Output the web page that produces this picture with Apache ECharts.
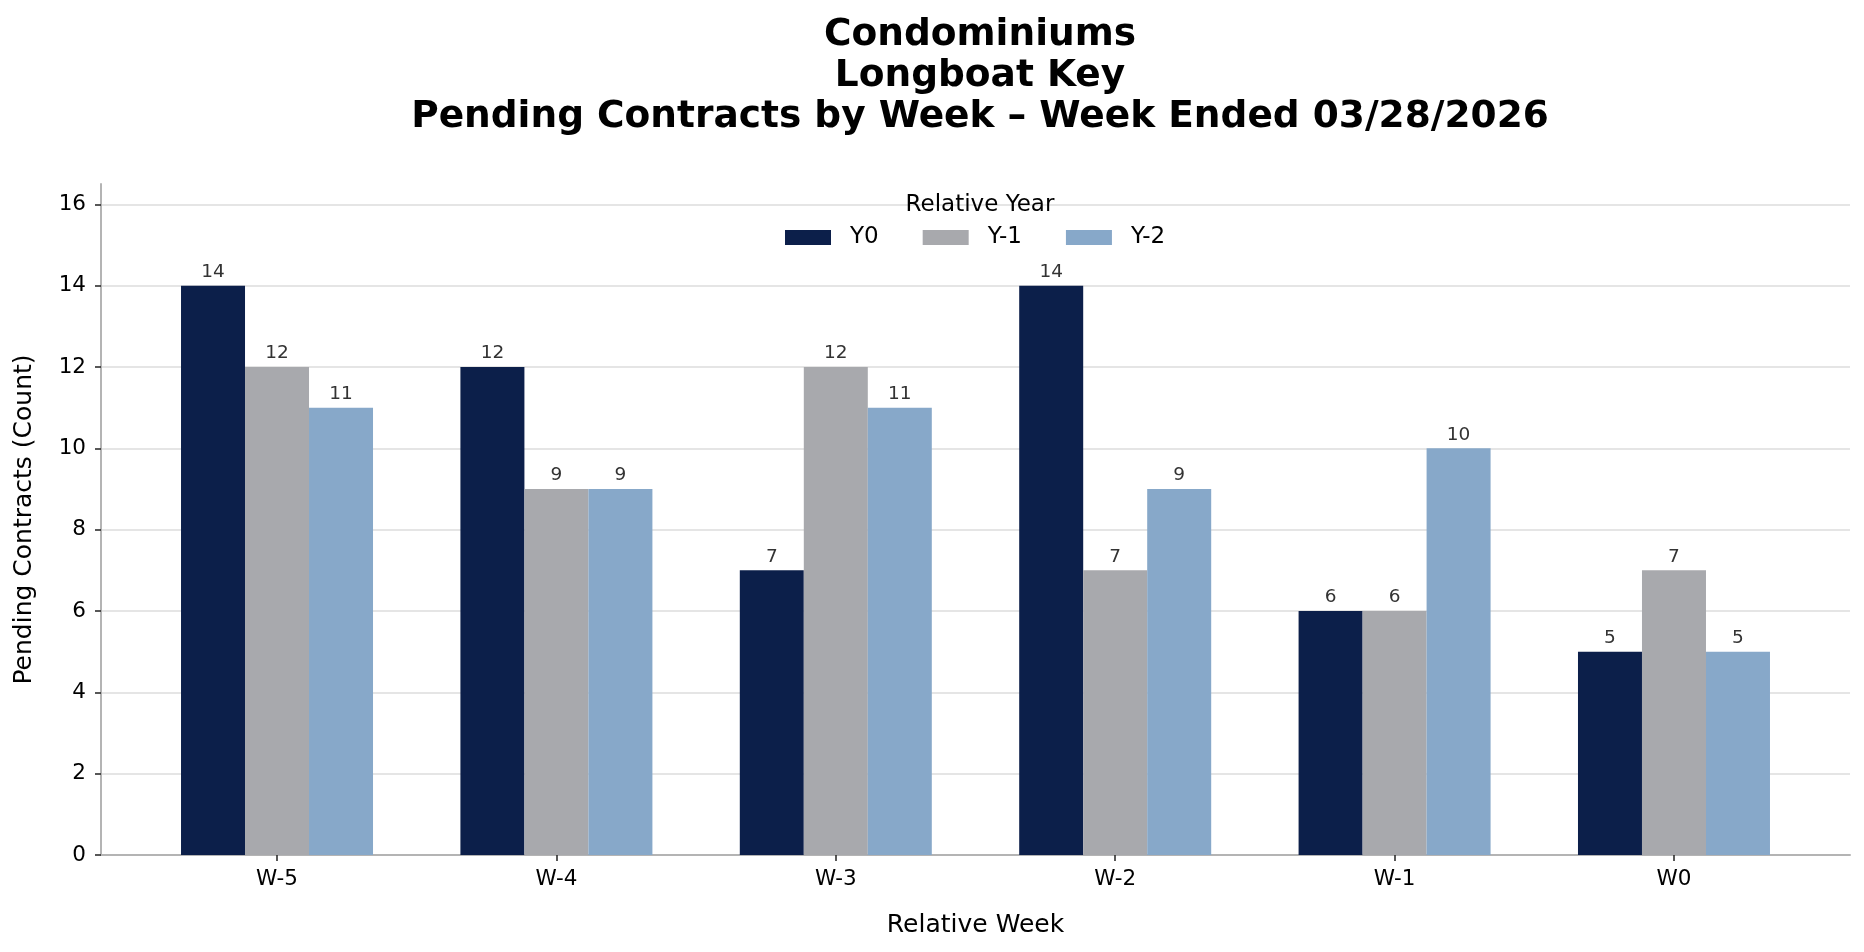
<!DOCTYPE html>
<html>
<head>
<meta charset="utf-8">
<script src="https://cdn.jsdelivr.net/npm/echarts@6/dist/echarts.min.js"></script>
<style>
html,body{margin:0;padding:0;background:#fff;}
#c{width:1864px;height:952px;}
</style>
</head>
<body>
<div id="c"></div>
<script>
const weeks = ['W-5', 'W-4', 'W-3', 'W-2', 'W-1', 'W0'];
const seriesNames = ['Y0', 'Y-1', 'Y-2'];
const y0 = [14, 12, 7, 14, 6, 5];
const y1 = [12, 9, 12, 7, 6, 7];
const y2 = [11, 9, 11, 9, 10, 5];
const yTicks = [0, 2, 4, 6, 8, 10, 12, 14, 16];
const xPositions = weeks.map((w, i) => i);

const colors = ['#0c1f4a', '#a8a9ad', '#87a8c9'];
const FONT = 'DejaVu Sans';
const allData = [y0, y1, y2];

const chart = echarts.init(document.getElementById('c'), null, {renderer: 'canvas'});
const option = {
  backgroundColor: '#ffffff',
  animation: false,
  textStyle: {fontFamily: FONT},
  title: [
    {
      text: 'Condominiums\nLongboat Key\nPending Contracts by Week \u2013 Week Ended 03/28/2026',
      left: 975, top: 10, textAlign: 'center',
      textStyle: {fontFamily: FONT, fontWeight: 'bold', fontSize: 37.5, lineHeight: 41, color: '#000'}
    },
    {
      text: 'Relative Year',
      left: 975, top: 189, textAlign: 'center',
      textStyle: {fontFamily: FONT, fontWeight: 'normal', fontSize: 23, color: '#000'}
    }
  ],
  legend: {
    data: seriesNames,
    top: 226, left: 785,
    padding: 0,
    itemWidth: 46, itemHeight: 15, itemGap: 44,
    icon: 'rect',
    textStyle: {fontFamily: FONT, fontSize: 23, color: '#000', padding: [0, 0, 0, 14]}
  },
  grid: {left: 101, right: 14, top: 184, bottom: 97, containLabel: false},
  xAxis: {
    type: 'value', min: -0.63, max: 5.63,
    name: 'Relative Week', nameLocation: 'middle', nameGap: 58,
    nameTextStyle: {fontFamily: FONT, fontSize: 25, color: '#000'},
    axisLine: {show: true, onZero: false, lineStyle: {color: '#b4b4b4', width: 2}},
    axisTick: {show: true, customValues: xPositions, length: 6, lineStyle: {color: '#222', width: 1.5}},
    axisLabel: {customValues: xPositions, formatter: v => weeks[Math.round(v)], fontFamily: FONT, fontSize: 21.5, color: '#000', margin: 13},
    splitLine: {show: false}
  },
  yAxis: {
    type: 'value', min: 0, max: 16.5, interval: 2,
    name: 'Pending Contracts (Count)', nameLocation: 'middle', nameGap: 64,
    nameTextStyle: {fontFamily: FONT, fontSize: 25, color: '#000'},
    axisLine: {show: true, onZero: false, lineStyle: {color: '#b4b4b4', width: 2}},
    axisTick: {show: true, customValues: yTicks, length: 6, lineStyle: {color: '#222', width: 1.5}},
    axisLabel: {customValues: yTicks, fontFamily: FONT, fontSize: 21.5, color: '#000', margin: 15},
    splitLine: {show: true, showMaxLine: true, showMinLine: false, lineStyle: {color: '#dcdcdc', width: 1.5}}
  },
  series: seriesNames.map((n, si) => ({
    name: n, type: 'bar',
    data: allData[si].map((v, i) => [i, v]),
    barWidth: 64, barGap: '0%',
    itemStyle: {color: colors[si]},
    label: {show: true, position: 'top', distance: 4, fontFamily: FONT, fontSize: 18.5, color: '#333',
      formatter: p => p.value[1]}
  }))
};
chart.setOption(option);
</script>
</body>
</html>
